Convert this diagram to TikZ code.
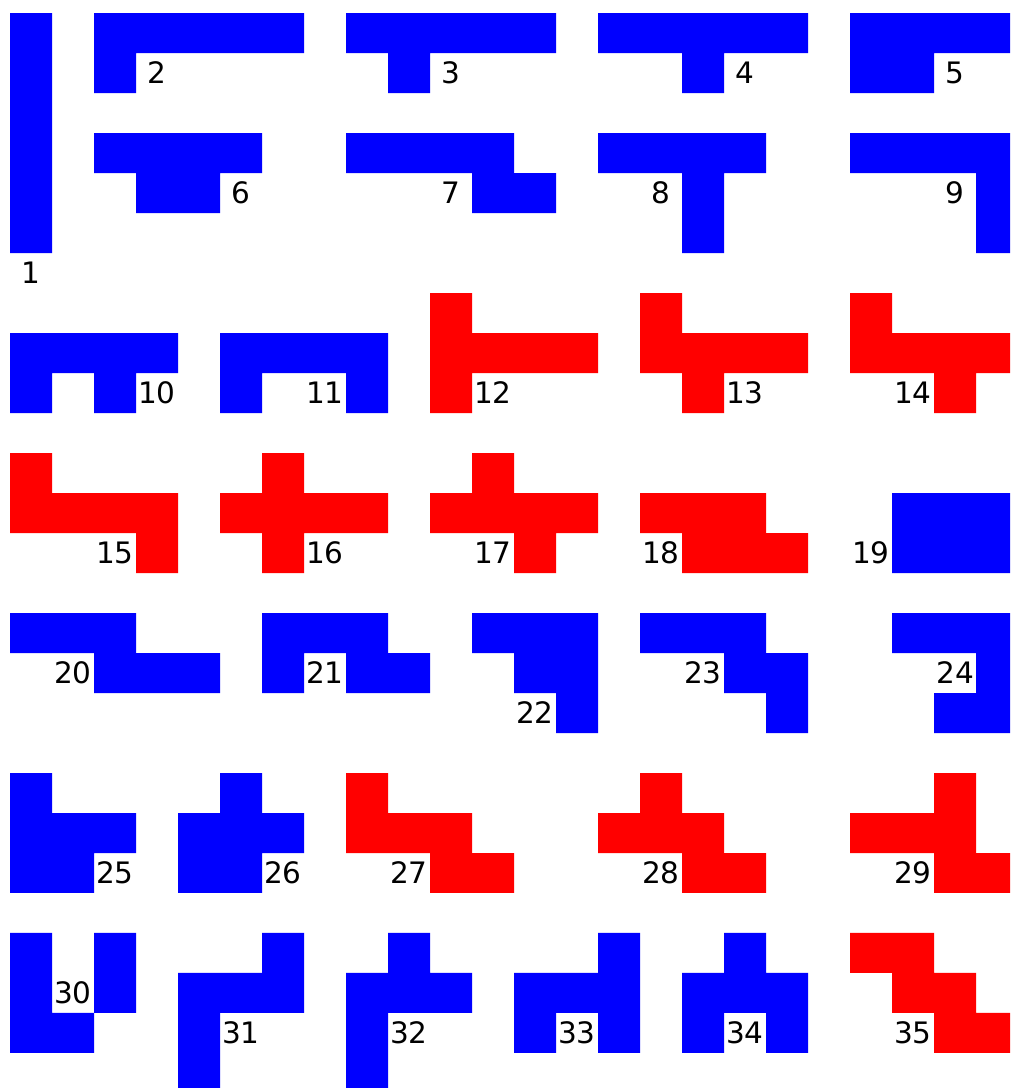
\documentclass[tikz,border=0pt]{standalone}
\usepackage{fontspec}
\usepackage{tikz}
\newfontfamily\lblfont{DejaVu Sans}
\tikzset{
    bluecell/.style = {fill=blue},
    redcell/.style  = {fill=red},
    numlbl/.style   = {font=\lblfont\fontsize{8.4}{10}\selectfont, text=black, inner sep=0pt},
}
% #1 style, #2 cells c/r, #3 #4 label cell, #5 number
\newcommand{\hexo}[5]{%
    \fill[#1] \foreach \cx/\cy in {#2} {(\cx,\cy) rectangle ++(1,1)};
    \node[numlbl] (n#5) at ({#3+0.5},{#4+0.5}) {#5};
}

\begin{document}
\begin{tikzpicture}
\useasboundingbox (0,0) rectangle (10.10,-10.88);
\clip (0,0) rectangle (10.10,-10.88);

\begin{scope}[x=0.42cm, y=-0.4cm, shift={(0.10cm,-0.13cm)}]
\hexo{bluecell}{0/0,0/1,0/2,0/3,0/4,0/5}{0}{6}{1}
\hexo{bluecell}{2/0,3/0,4/0,5/0,6/0,2/1}{3}{1}{2}
\hexo{bluecell}{8/0,9/0,10/0,11/0,12/0,9/1}{10}{1}{3}
\hexo{bluecell}{14/0,15/0,16/0,17/0,18/0,16/1}{17}{1}{4}
\hexo{bluecell}{20/0,21/0,22/0,23/0,20/1,21/1}{22}{1}{5}
\hexo{bluecell}{2/3,3/3,4/3,5/3,3/4,4/4}{5}{4}{6}
\hexo{bluecell}{8/3,9/3,10/3,11/3,11/4,12/4}{10}{4}{7}
\hexo{bluecell}{14/3,15/3,16/3,17/3,16/4,16/5}{15}{4}{8}
\hexo{bluecell}{20/3,21/3,22/3,23/3,23/4,23/5}{22}{4}{9}

\hexo{bluecell}{0/8,1/8,2/8,3/8,0/9,2/9}{3}{9}{10}
\hexo{bluecell}{5/8,6/8,7/8,8/8,5/9,8/9}{7}{9}{11}
\hexo{redcell}{10/7,10/8,11/8,12/8,13/8,10/9}{11}{9}{12}
\hexo{redcell}{15/7,15/8,16/8,17/8,18/8,16/9}{17}{9}{13}
\hexo{redcell}{20/7,20/8,21/8,22/8,23/8,22/9}{21}{9}{14}

\hexo{redcell}{0/11,0/12,1/12,2/12,3/12,3/13}{2}{13}{15}
\hexo{redcell}{6/11,5/12,6/12,7/12,8/12,6/13}{7}{13}{16}
\hexo{redcell}{11/11,10/12,11/12,12/12,13/12,12/13}{11}{13}{17}
\hexo{redcell}{15/12,16/12,17/12,16/13,17/13,18/13}{15}{13}{18}
\hexo{bluecell}{21/12,22/12,23/12,21/13,22/13,23/13}{20}{13}{19}

\hexo{bluecell}{0/15,1/15,2/15,2/16,3/16,4/16}{1}{16}{20}
\hexo{bluecell}{6/15,7/15,8/15,6/16,8/16,9/16}{7}{16}{21}
\hexo{bluecell}{11/15,12/15,13/15,12/16,13/16,13/17}{12}{17}{22}
\hexo{bluecell}{15/15,16/15,17/15,17/16,18/16,18/17}{16}{16}{23}
\hexo{bluecell}{21/15,22/15,23/15,23/16,22/17,23/17}{22}{16}{24}

\hexo{bluecell}{0/19,0/20,1/20,2/20,0/21,1/21}{2}{21}{25}
\hexo{bluecell}{5/19,4/20,5/20,6/20,4/21,5/21}{6}{21}{26}
\hexo{redcell}{8/19,8/20,9/20,10/20,10/21,11/21}{9}{21}{27}
\hexo{redcell}{15/19,14/20,15/20,16/20,16/21,17/21}{15}{21}{28}
\hexo{redcell}{22/19,20/20,21/20,22/20,22/21,23/21}{21}{21}{29}

\hexo{bluecell}{0/23,0/24,0/25,1/25,2/23,2/24}{1}{24}{30}
\hexo{bluecell}{6/23,4/24,5/24,6/24,4/25,4/26}{5}{25}{31}
\hexo{bluecell}{9/23,8/24,9/24,10/24,8/25,8/26}{9}{25}{32}
\hexo{bluecell}{14/23,12/24,13/24,14/24,12/25,14/25}{13}{25}{33}
\hexo{bluecell}{17/23,16/24,17/24,18/24,16/25,18/25}{17}{25}{34}
\hexo{redcell}{20/23,21/23,21/24,22/24,22/25,23/25}{21}{25}{35}
\end{scope}

\end{tikzpicture}
\end{document}
